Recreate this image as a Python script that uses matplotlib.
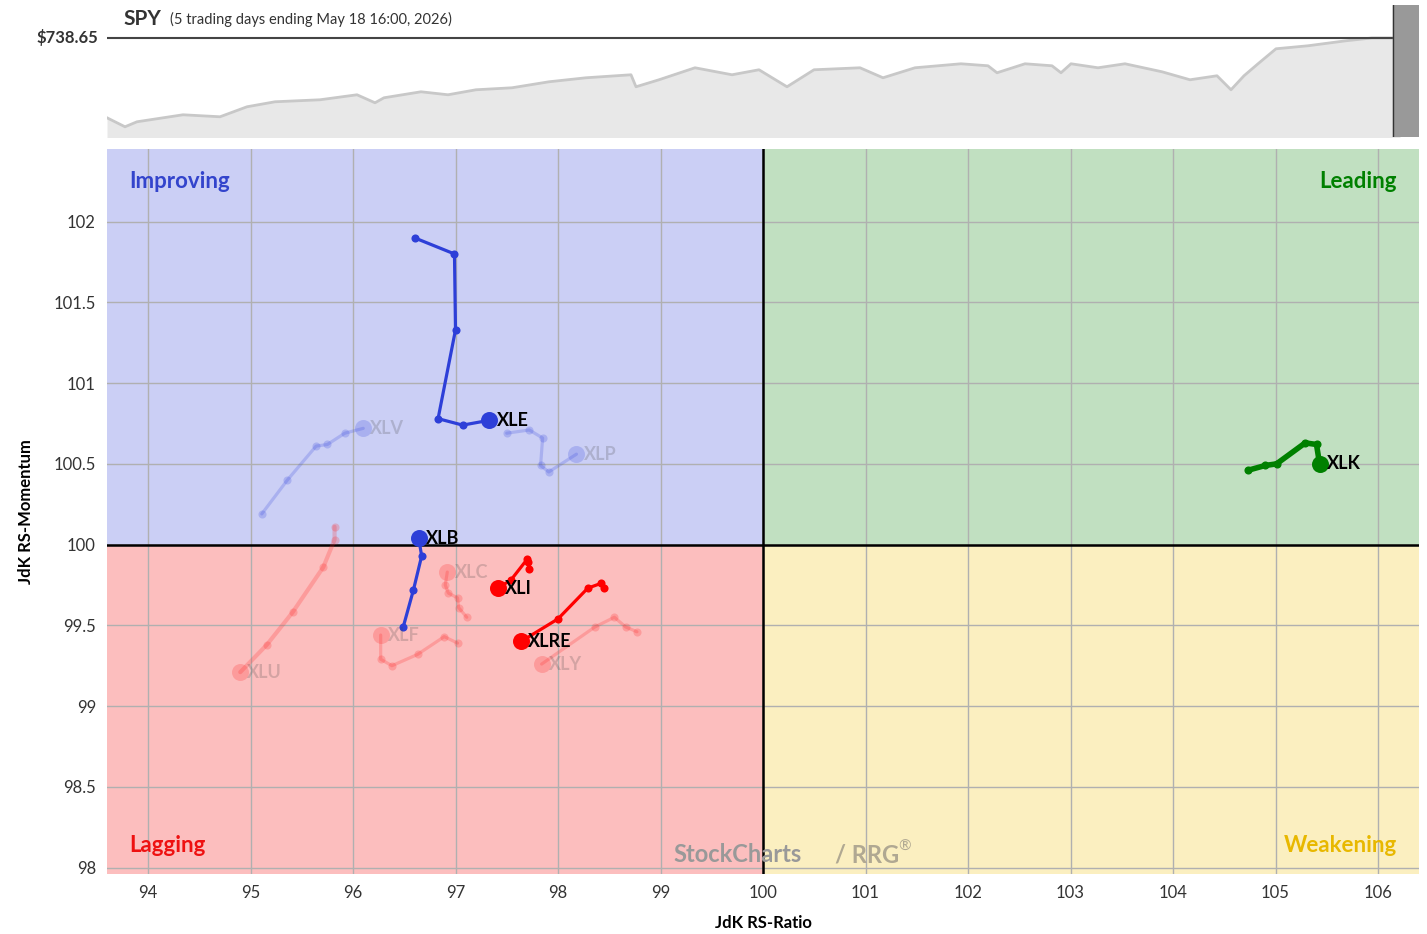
import numpy as np
import matplotlib.pyplot as plt

plt.rcParams['font.family'] = ['Lato', 'DejaVu Sans']

# RRG tails, oldest -> head (JdK RS-Ratio, JdK RS-Momentum)
xle_x = [96.60, 96.99, 97.00, 96.83, 97.07, 97.33]
xle_y = [101.90, 101.80, 101.33, 100.78, 100.74, 100.77]
xlb_x = [96.49, 96.59, 96.67, 96.64]
xlb_y = [99.49, 99.72, 99.93, 100.04]
xli_x = [97.72, 97.71, 97.70, 97.54, 97.41]
xli_y = [99.85, 99.89, 99.91, 99.78, 99.73]
xlre_x = [98.45, 98.42, 98.29, 98.00, 97.64]
xlre_y = [99.73, 99.76, 99.73, 99.54, 99.40]
xlk_x = [104.73, 104.90, 105.01, 105.29, 105.40, 105.43]
xlk_y = [100.46, 100.49, 100.50, 100.63, 100.62, 100.50]

# faded (unselected) tails
xlv_x = [95.11, 95.36, 95.64, 95.75, 95.92, 96.10]
xlv_y = [100.19, 100.40, 100.61, 100.62, 100.69, 100.72]
xlp_x = [97.50, 97.72, 97.85, 97.83, 97.91, 98.18]
xlp_y = [100.69, 100.71, 100.66, 100.49, 100.45, 100.56]
xlu_x = [95.82, 95.82, 95.71, 95.41, 95.16, 94.90]
xlu_y = [100.11, 100.03, 99.86, 99.58, 99.38, 99.21]
xlc_x = [97.11, 97.03, 97.02, 96.93, 96.90, 96.92]
xlc_y = [99.55, 99.61, 99.67, 99.70, 99.75, 99.83]
xlf_x = [97.02, 96.89, 96.63, 96.38, 96.27, 96.27]
xlf_y = [99.39, 99.43, 99.32, 99.25, 99.29, 99.44]
xly_x = [98.77, 98.66, 98.55, 98.36, 97.84]
xly_y = [99.46, 99.49, 99.55, 99.49, 99.26]

# SPY price history (top strip)
spy_day = [0, 18, 30, 76, 113, 140, 168, 213, 250, 268, 277, 314, 341, 369, 405, 442,
           479, 524, 529, 552, 588, 625, 652, 680, 707, 753, 776, 808, 854, 881, 890,
           918, 945, 954, 964, 991, 1018, 1055, 1083, 1110, 1124, 1137, 1151, 1169,
           1201, 1238, 1265, 1293]
spy_price = [666.8, 658.7, 663.2, 669.5, 667.7, 676.7, 681.2, 683.0, 687.5, 680.3, 684.8,
             690.2, 687.5, 692.0, 693.8, 699.2, 702.8, 705.5, 694.7, 701.0, 711.8, 705.5,
             710.0, 694.7, 710.0, 711.8, 702.8, 711.8, 715.4, 713.6, 707.3, 715.4, 713.6,
             707.3, 715.4, 711.8, 715.4, 708.2, 701.0, 704.6, 692.0, 704.6, 715.4, 728.9,
             731.6, 736.0, 738.65, 738.65]

fig = plt.figure(figsize=(14.27, 9.34), dpi=100)
W, H = 1427, 934

# ---- top strip
axt = fig.add_axes([107 / W, 1 - 137 / H, 1312 / W, 132 / H])
axt.fill_between(spy_day, spy_price, 640, color='#e8e8e8', lw=0)
axt.plot(spy_day, spy_price, color='#c8c8c8', lw=2)
axt.axhline(738.65, color='#444444', lw=1.5)
axt.set_xlim(0, 1312)
axt.set_ylim(649.5, 768.3)
axt.axvspan(1286, 1312, color='#999999', zorder=3)
axt.axvline(1286, color='#333333', lw=1, zorder=4)
axt.axis('off')
fig.text(123 / W, 1 - 19 / H, 'SPY', fontsize=15, color='#333333', va='center', fontweight='bold')
fig.text(170 / W, 1 - 19 / H, '(5 trading days ending May 18 16:00, 2026)', fontsize=10.5,
         color='#333333', va='center')
fig.text(98 / W, 1 - 37 / H, '$738.65', fontsize=12, color='#333333', va='center',
         ha='right', fontweight='bold')

# ---- RRG
ax = fig.add_axes([107 / W, 1 - 874 / H, 1312 / W, 725 / H])
x0, x1 = 93.6, 106.4
y0, y1 = 97.96, 102.45
ax.set_xlim(x0, x1)
ax.set_ylim(y0, y1)
ax.axvspan(x0, 100, ymin=(100 - y0) / (y1 - y0), ymax=1, color='#cbcff5', zorder=0)
ax.axvspan(100, x1, ymin=(100 - y0) / (y1 - y0), ymax=1, color='#c1e0c1', zorder=0)
ax.axvspan(x0, 100, ymin=0, ymax=(100 - y0) / (y1 - y0), color='#fcbebe', zorder=0)
ax.axvspan(100, x1, ymin=0, ymax=(100 - y0) / (y1 - y0), color='#fbefc0', zorder=0)
ax.set_xticks(np.arange(94, 107, 1))
ax.set_yticks(np.arange(98, 102.01, 0.5))
ax.set_yticklabels(['98', '98.5', '99', '99.5', '100', '100.5', '101', '101.5', '102'])
ax.grid(True, color='#b0b0b0', lw=1, zorder=1)
ax.tick_params(length=0, labelsize=12, colors='#333333', pad=8)
ax.axhline(100, color='black', lw=1.8, zorder=2)
ax.axvline(100, color='black', lw=1.8, zorder=2)
for s in ax.spines.values():
    s.set_visible(False)
ax.set_xlabel('JdK RS-Ratio', fontsize=12, fontweight='bold', labelpad=10)
ax.set_ylabel('JdK RS-Momentum', fontsize=12, fontweight='bold', labelpad=14)

ax.text(0.017, 0.955, 'Improving', transform=ax.transAxes, fontsize=16, color='#3344cc',
        va='center', fontweight='bold')
ax.text(0.983, 0.955, 'Leading', transform=ax.transAxes, fontsize=16, color='#008000',
        va='center', ha='right', fontweight='bold')
ax.text(0.017, 0.04, 'Lagging', transform=ax.transAxes, fontsize=16, color='#ee1111',
        va='center', fontweight='bold')
ax.text(0.983, 0.04, 'Weakening', transform=ax.transAxes, fontsize=16, color='#e8b800',
        va='center', ha='right', fontweight='bold')
ax.text(99.13, 98.08, 'StockCharts', fontsize=17, color='#999999', va='center', zorder=3,
        fontweight='bold')
ax.text(100.70, 98.08, '/ RRG', fontsize=17, color='#b0a892', va='center', fontweight='bold', zorder=3)
ax.text(101.32, 98.13, '®', fontsize=11, color='#b0a892', va='center', zorder=3)


def tail(xs, ys, color, name, alpha=1.0, lw=2.3, label_color='black'):
    ax.plot(xs, ys, color=color, lw=lw, alpha=alpha, zorder=4, solid_capstyle='round')
    ax.scatter(xs[:-1], ys[:-1], s=34, color=color, alpha=alpha, zorder=5, lw=0)
    ax.scatter(xs[-1:], ys[-1:], s=150, color=color, alpha=alpha, zorder=5, lw=0)
    ax.text(xs[-1] + 0.07, ys[-1], name, fontsize=13, color=label_color, alpha=alpha,
            va='center', zorder=6, fontweight='bold')


fade = 0.22
tail(xlv_x, xlv_y, '#3344dd', 'XLV', fade, label_color='#444444')
tail(xlp_x, xlp_y, '#3344dd', 'XLP', fade, label_color='#444444')
tail(xlu_x, xlu_y, '#ff2222', 'XLU', fade, lw=3, label_color='#444444')
tail(xlc_x, xlc_y, '#ff2222', 'XLC', fade, label_color='#444444')
tail(xlf_x, xlf_y, '#ff2222', 'XLF', fade, label_color='#444444')
tail(xly_x, xly_y, '#ff2222', 'XLY', fade, label_color='#444444')

tail(xle_x, xle_y, '#2d3fd8', 'XLE')
tail(xlb_x, xlb_y, '#2d3fd8', 'XLB')
tail(xli_x, xli_y, '#ff0000', 'XLI')
tail(xlre_x, xlre_y, '#ff0000', 'XLRE')
tail(xlk_x, xlk_y, '#008000', 'XLK', lw=4)

fig.savefig('out.png', dpi=100)
